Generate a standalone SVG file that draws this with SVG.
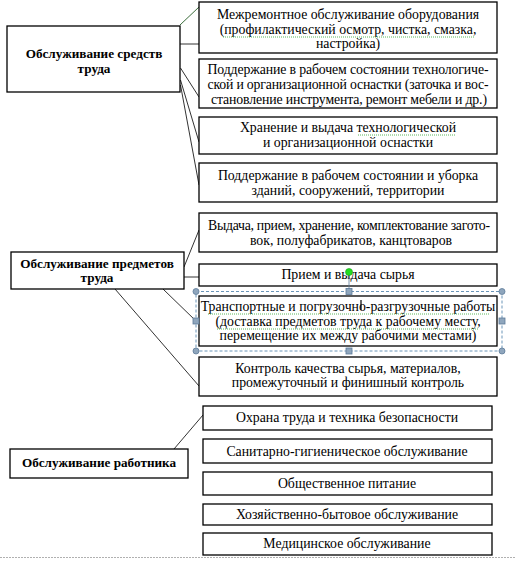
<svg xmlns="http://www.w3.org/2000/svg" width="515" height="561" viewBox="0 0 515 561">
<style>
.b{fill:#fff;stroke:#000;stroke-width:1.3}
.t{font-family:"Liberation Serif","Times New Roman",Times,serif;font-size:13.8px;fill:#000;text-anchor:middle}
.h{font-family:"Liberation Serif","Times New Roman",Times,serif;font-size:13.2px;font-weight:bold;fill:#000;text-anchor:middle}
.c{stroke:#333;stroke-width:1;fill:none}
.sp{stroke:#5cb85c;stroke-width:1;stroke-dasharray:1 1;fill:none}
.sel{stroke:#6a95b8;stroke-width:1;stroke-dasharray:3 2;fill:none}
.hd{fill:#8fa6bd;stroke:#5d7b99;stroke-width:0.8}
</style>
<rect width="515" height="561" fill="#fff"/>
<g id="connectors">
<line class="c" x1="180" y1="25" x2="199" y2="7" style="stroke:#3c6e3c"/>
<line class="c" x1="180" y1="44" x2="199" y2="44"/>
<line class="c" x1="180.5" y1="68" x2="199" y2="97"/>
<line class="c" x1="180.5" y1="80" x2="199" y2="142"/>
<line class="c" x1="180.5" y1="85" x2="199" y2="185"/>
<line class="c" x1="184" y1="267" x2="199" y2="230"/>
<line class="c" x1="184" y1="277" x2="199" y2="277"/>
<line class="c" x1="163" y1="289" x2="196" y2="321"/>
<line class="c" x1="115" y1="289" x2="199" y2="386"/>
<line class="c" x1="174" y1="449" x2="203" y2="415"/>
</g>
<g id="n1"><rect class="b" x="7" y="26" width="173" height="66"/><text class="h" x="94" y="58">Обслуживание средств</text><text class="h" x="94" y="73">труда</text></g>
<g id="n2"><rect class="b" x="11" y="252" width="173" height="37"/><text class="h" x="97" y="268">Обслуживание предметов</text><text class="h" x="97" y="282">труда</text></g>
<g id="n3"><rect class="b" x="10" y="449" width="178" height="29"/><text class="h" x="99" y="467">Обслуживание работника</text></g>
<g id="a"><rect class="b" x="199" y="2" width="298" height="51"/><text class="t" x="348" y="19">Межремонтное обслуживание оборудования</text><text class="t" x="348" y="34">(профилактический осмотр, чистка, смазка,</text><text class="t" x="348" y="48">настройка)</text><path class="sp" d="M223 37H475"/></g>
<g id="b"><rect class="b" x="199" y="59" width="298" height="49"/><text class="t" x="348" y="74" textLength="281" lengthAdjust="spacing">Поддержание в рабочем состоянии технологиче-</text><text class="t" x="348" y="89" textLength="281" lengthAdjust="spacing">ской и организационной оснастки (заточка и вос-</text><text class="t" x="349" y="103.5" textLength="276" lengthAdjust="spacing">становление инструмента, ремонт мебели и др.)</text></g>
<g id="c"><rect class="b" x="199" y="117" width="298" height="37"/><text class="t" x="348" y="132">Хранение и выдача технологической</text><text class="t" x="348" y="147">и организационной оснастки</text><path class="sp" d="M358 135H455"/></g>
<g id="d"><rect class="b" x="199" y="163" width="298" height="39"/><text class="t" x="348" y="180">Поддержание в рабочем состоянии и уборка</text><text class="t" x="348" y="195">зданий, сооружений, территории</text></g>
<g id="e"><rect class="b" x="199" y="213" width="298" height="39"/><text class="t" x="349" y="230" textLength="282" lengthAdjust="spacing">Выдача, прием, хранение, комплектование загото-</text><text class="t" x="351" y="245">вок, полуфабрикатов, канцтоваров</text></g>
<g id="f"><rect class="b" x="199" y="264" width="298" height="22"/><text class="t" x="348" y="279">Прием и выдача сырья</text></g>
<g id="g"><rect class="b" x="199" y="296" width="298" height="50"/><text class="t" x="348" y="311">Транспортные и погрузочно-разгрузочные работы</text><text class="t" x="348" y="326">(доставка предметов труда к рабочему месту,</text><text class="t" x="348" y="340">перемещение их между рабочими местами)</text><path class="sp" d="M208 314H490M217 329H479"/><line x1="361" y1="300" x2="361" y2="310" stroke="#000" stroke-width="1.2"/></g>
<g id="selection">
<rect class="sel" x="196" y="291.5" width="306" height="59.5"/>
<line x1="349" y1="272" x2="349" y2="291" stroke="#5d7b99" stroke-width="0.8"/>
<circle cx="349" cy="272" r="3.5" fill="#22dd22" stroke="#1a9a1a" stroke-width="0.6"/>
<circle class="hd" cx="196" cy="291.5" r="3"/><circle class="hd" cx="502" cy="291.5" r="3"/><circle class="hd" cx="196" cy="351" r="3"/><circle class="hd" cx="502" cy="351" r="3"/>
<rect class="hd" x="346" y="288.5" width="6" height="6"/><rect class="hd" x="346" y="348" width="6" height="6"/><rect class="hd" x="193" y="318" width="6" height="6"/><rect class="hd" x="499" y="318" width="6" height="6"/>
</g>
<g id="h"><rect class="b" x="199" y="357" width="298" height="39"/><text class="t" x="348" y="373">Контроль качества сырья, материалов,</text><text class="t" x="348" y="387">промежуточный и финишный контроль</text></g>
<g id="i"><rect class="b" x="203" y="406" width="289" height="24"/><text class="t" x="347" y="422">Охрана труда и техника безопасности</text></g>
<g id="j"><rect class="b" x="203" y="439" width="289" height="24"/><text class="t" x="347" y="456">Санитарно-гигиеническое обслуживание</text></g>
<g id="k"><rect class="b" x="203" y="472" width="289" height="23"/><text class="t" x="347" y="488">Общественное питание</text></g>
<g id="l"><rect class="b" x="203" y="504" width="289" height="21"/><text class="t" x="347" y="519">Хозяйственно-бытовое обслуживание</text></g>
<g id="m"><rect class="b" x="203" y="533" width="289" height="22"/><text class="t" x="347" y="548">Медицинское обслуживание</text></g>
<line x1="0" y1="557.5" x2="515" y2="557.5" stroke="#b0b0b0" stroke-width="1" stroke-dasharray="2 1"/>
</svg>
